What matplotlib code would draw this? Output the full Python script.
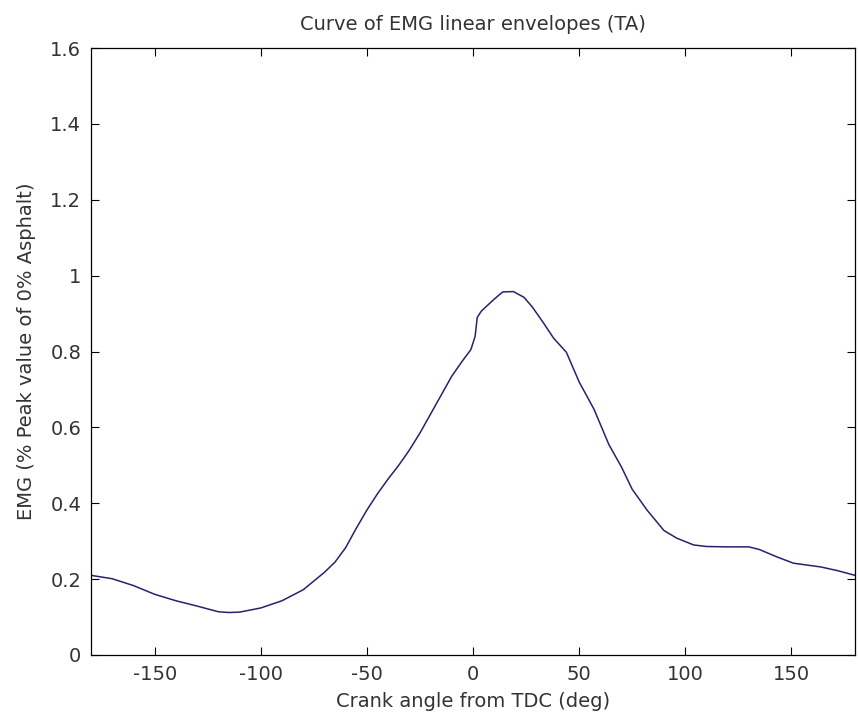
"""
Curve of EMG linear envelopes (TA) - MATLAB style line plot.
"""

import matplotlib
matplotlib.use("Agg")
import matplotlib.pyplot as plt
from matplotlib.ticker import FuncFormatter

# crank angle (deg) and EMG envelope (fraction of peak at 0% asphalt)
crank_angle = [-180, -170, -160, -150, -140, -130, -120, -115, -110, -100,
               -90, -80, -70, -65, -60, -55, -50, -45, -40, -35,
               -30, -25, -20, -15, -10, -5, -1, 1, 2, 4,
               10, 14, 19, 24, 28, 33, 38, 44, 50, 57,
               64, 70, 75, 82, 90, 96, 104, 110, 120, 130,
               135, 143, 151, 164, 172, 180]
emg_ta = [0.210, 0.201, 0.183, 0.160, 0.143, 0.129, 0.114, 0.112, 0.113, 0.124,
          0.143, 0.172, 0.218, 0.245, 0.283, 0.334, 0.382, 0.425, 0.464, 0.500,
          0.540, 0.585, 0.635, 0.685, 0.735, 0.775, 0.805, 0.840, 0.890, 0.907,
          0.938, 0.957, 0.958, 0.943, 0.917, 0.877, 0.835, 0.798, 0.720, 0.648,
          0.555, 0.495, 0.437, 0.382, 0.328, 0.308, 0.290, 0.286, 0.285, 0.285,
          0.278, 0.259, 0.242, 0.232, 0.222, 0.210]

x_ticks = [-150, -100, -50, 0, 50, 100, 150]
y_ticks = [0, 0.2, 0.4, 0.6, 0.8, 1.0, 1.2, 1.4, 1.6]

plt.rcParams["font.family"] = ["DejaVu Sans"]
plt.rcParams["axes.unicode_minus"] = False

fig = plt.figure(figsize=(8.58, 7.21), dpi=100)
ax = fig.add_axes([91 / 858, 1 - 655 / 721, 764 / 858, 607 / 721])

ax.plot(crank_angle, emg_ta, color="#24246e", linewidth=1.1)

ax.set_xlim(-180, 180)
ax.set_ylim(0, 1.6)
ax.set_xticks(x_ticks)
ax.set_yticks(y_ticks)
ax.yaxis.set_major_formatter(FuncFormatter(lambda v, _: f"{v:g}"))
ax.tick_params(direction="in", length=6, width=0.8, top=True, right=True,
               labelsize=14, colors="black", pad=7, labelcolor="#333333")
for s in ax.spines.values():
    s.set_linewidth(0.9)

ax.set_title("Curve of EMG linear envelopes (TA)", fontsize=14, pad=13,
             color="#333333")
ax.set_xlabel("Crank angle from TDC (deg)", fontsize=14, labelpad=6,
              color="#333333")
ax.set_ylabel("EMG (% Peak value of 0% Asphalt)", fontsize=14, labelpad=10,
              color="#333333")

fig.savefig("out.png", dpi=100)
